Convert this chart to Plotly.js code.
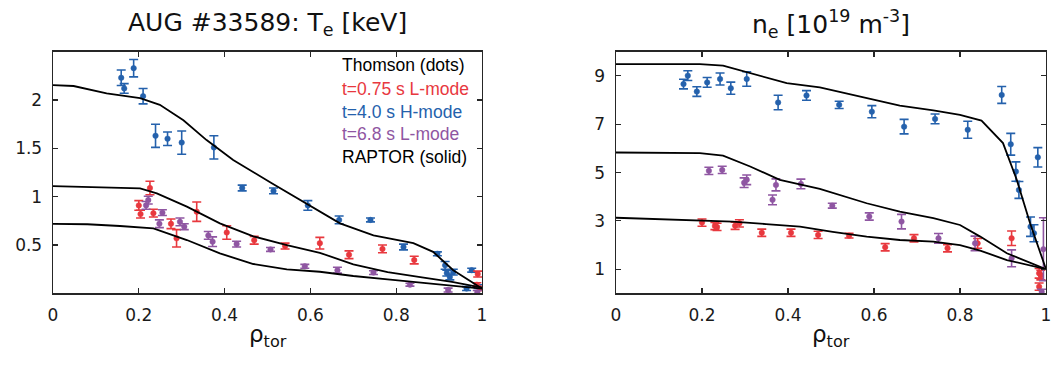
<!DOCTYPE html>
<html><head><meta charset="utf-8">
<script src="https://cdn.plot.ly/plotly-3.0.1.min.js"></script>
<style>html,body{margin:0;padding:0;background:#fff}#chart{width:1051px;height:374px}</style>
</head><body><div id="chart"></div>
<script>
// ---------- Te panel (keV) ----------
const teBlueX = [0.159,0.166,0.188,0.21,0.239,0.267,0.30,0.375,0.441,0.514,0.594,0.667,0.74,0.817,0.896,0.914,0.918,0.925,0.933,0.964,0.976,0.991];
const teBlueY = [2.23,2.12,2.33,2.04,1.63,1.60,1.56,1.51,1.09,1.06,0.91,0.76,0.76,0.48,0.41,0.29,0.21,0.17,0.22,0.05,0.24,0.07];
const teBlueE = [0.08,0.05,0.09,0.08,0.12,0.07,0.12,0.12,0.03,0.03,0.05,0.04,0.02,0.03,0.02,0.04,0.03,0.03,0.03,0.02,0.02,0.02];

const teRedX = [0.20,0.204,0.226,0.234,0.275,0.288,0.335,0.405,0.469,0.541,0.622,0.69,0.768,0.842,0.99,0.988,0.995];
const teRedY = [0.91,0.82,1.09,0.83,0.72,0.57,0.845,0.63,0.55,0.49,0.52,0.40,0.46,0.345,0.2,0.09,0.05];
const teRedE = [0.05,0.04,0.07,0.04,0.05,0.09,0.10,0.07,0.04,0.03,0.06,0.04,0.04,0.04,0.03,0.02,0.02];

const tePurX = [0.217,0.222,0.248,0.255,0.296,0.306,0.362,0.372,0.428,0.507,0.587,0.663,0.747,0.832,0.921,0.989];
const tePurY = [0.91,0.965,0.72,0.835,0.74,0.69,0.60,0.535,0.51,0.455,0.28,0.24,0.215,0.09,0.035,0.01];
const tePurE = [0.04,0.04,0.04,0.03,0.04,0.03,0.04,0.05,0.03,0.02,0.02,0.03,0.02,0.015,0.02,0.02];

const teSimHX = [0,0.048,0.125,0.203,0.249,0.304,0.358,0.42,0.51,0.591,0.669,0.747,0.84,0.886,0.933,1];
const teSimHY = [2.155,2.145,2.07,2.02,1.95,1.79,1.586,1.38,1.14,0.93,0.725,0.60,0.52,0.43,0.24,0.05];
const teSimL1X = [0,0.086,0.156,0.203,0.242,0.312,0.389,0.467,0.545,0.622,0.70,0.78,0.86,0.93,1];
const teSimL1Y = [1.11,1.10,1.097,1.087,1.035,0.897,0.725,0.59,0.50,0.42,0.30,0.22,0.165,0.12,0.06];
const teSimL2X = [0,0.08,0.156,0.234,0.312,0.389,0.467,0.545,0.622,0.70,0.78,0.86,0.93,1];
const teSimL2Y = [0.72,0.715,0.697,0.673,0.552,0.414,0.304,0.249,0.224,0.18,0.145,0.11,0.08,0.05];

// ---------- ne panel (1e19 m^-3) ----------
const neBlueX = [0.157,0.167,0.188,0.212,0.242,0.267,0.304,0.377,0.443,0.519,0.595,0.67,0.742,0.818,0.897,0.918,0.93,0.937,0.964,0.972,0.981];
const neBlueY = [8.66,9.01,8.35,8.73,8.87,8.49,8.87,7.9,8.19,7.8,7.52,6.9,7.22,6.77,8.21,6.17,5.04,4.28,2.76,2.49,5.63];
const neBlueE = [0.2,0.2,0.2,0.2,0.25,0.25,0.3,0.3,0.2,0.15,0.25,0.3,0.2,0.35,0.35,0.45,0.4,0.35,0.4,0.35,0.4];

const nePurX = [0.216,0.247,0.298,0.304,0.364,0.372,0.43,0.503,0.589,0.664,0.75,0.835,0.92,0.994,0.99];
const nePurY = [5.07,5.11,4.58,4.7,3.87,4.49,4.53,3.63,3.18,2.97,2.28,2.07,1.45,1.83,0.07];
const nePurE = [0.15,0.15,0.2,0.2,0.2,0.25,0.2,0.1,0.15,0.3,0.2,0.3,0.35,1.3,0.1];

const neRedX = [0.20,0.23,0.235,0.277,0.287,0.339,0.407,0.47,0.542,0.626,0.693,0.771,0.841,0.92,0.984,0.988,0.984];
const neRedY = [2.93,2.79,2.75,2.80,2.9,2.51,2.51,2.42,2.39,1.91,2.28,1.87,2.07,2.28,0.83,0.76,0.28];
const neRedE = [0.15,0.15,0.15,0.15,0.15,0.15,0.15,0.15,0.1,0.15,0.15,0.15,0.2,0.3,0.2,0.2,0.15];

const neSimHX = [0,0.195,0.249,0.312,0.397,0.474,0.583,0.66,0.738,0.8,0.85,0.90,0.932,0.963,1];
const neSimHY = [9.49,9.49,9.42,9.11,8.70,8.52,8.08,7.77,7.57,7.39,7.15,6.22,4.70,2.9,1.0];
const neSimL2X = [0,0.195,0.249,0.312,0.381,0.474,0.583,0.66,0.738,0.8,0.847,0.909,1];
const neSimL2Y = [5.83,5.8,5.70,5.25,4.70,4.32,3.73,3.38,3.11,2.83,2.35,1.66,1.0];
const neSimL1X = [0,0.195,0.271,0.349,0.428,0.504,0.583,0.66,0.738,0.8,0.847,0.909,1];
const neSimL1Y = [3.13,3.0,2.97,2.87,2.76,2.55,2.35,2.21,2.14,2.0,1.77,1.38,1.0];

const xTicks = [0,0.2,0.4,0.6,0.8,1];
const xTickText = ['0','0.2','0.4','0.6','0.8','1'];
const teTicks = [0.5,1,1.5,2];
const teTickText = ['0.5','1','1.5','2'];
const neTicks = [1,3,5,7,9];
const neTickText = ['1','3','5','7','9'];

const legendLines = ['Thomson (dots)','t=0.75 s L-mode','t=4.0 s H-mode','t=6.8 s L-mode','RAPTOR (solid)'];

const RED = '#e8383e', BLUE = '#2461ac', PURPLE = '#8f56a2', BLACK = '#000000';
const legendColors = [BLACK, RED, BLUE, PURPLE, BLACK];

function pts(x, y, e, color, xa, ya) {
  return {x: x, y: y, type: 'scatter', mode: 'markers', xaxis: xa, yaxis: ya,
    marker: {color: color, size: 5.5, line: {color: color, width: 0.5}},
    error_y: {type: 'data', array: e, visible: true, color: color, thickness: 1.6, width: 4.5},
    showlegend: false, hoverinfo: 'skip'};
}
function sim(x, y, xa, ya) {
  return {x: x, y: y, type: 'scatter', mode: 'lines', xaxis: xa, yaxis: ya,
    line: {color: BLACK, width: 1.8}, showlegend: false, hoverinfo: 'skip'};
}

const traces = [
  pts(teBlueX, teBlueY, teBlueE, BLUE, 'x', 'y'),
  pts(teRedX, teRedY, teRedE, RED, 'x', 'y'),
  pts(tePurX, tePurY, tePurE, PURPLE, 'x', 'y'),
  sim(teSimHX, teSimHY, 'x', 'y'),
  sim(teSimL1X, teSimL1Y, 'x', 'y'),
  sim(teSimL2X, teSimL2Y, 'x', 'y'),
  pts(neBlueX, neBlueY, neBlueE, BLUE, 'x2', 'y2'),
  pts(neRedX, neRedY, neRedE, RED, 'x2', 'y2'),
  pts(nePurX, nePurY, nePurE, PURPLE, 'x2', 'y2'),
  sim(neSimHX, neSimHY, 'x2', 'y2'),
  sim(neSimL2X, neSimL2Y, 'x2', 'y2'),
  sim(neSimL1X, neSimL1Y, 'x2', 'y2')
];

const tickFont = {family: 'DejaVu Sans', size: 17, color: '#1a1a1a'};
function xax(domain, anchor) {
  return {domain: domain, anchor: anchor, range: [0, 1], tickvals: xTicks, ticktext: xTickText,
    ticks: 'inside', ticklen: 5, tickwidth: 1.2, tickcolor: '#262626',
    showline: true, linecolor: '#262626', linewidth: 1.4, mirror: 'ticks',
    showgrid: false, zeroline: false, tickfont: tickFont, ticklabelstandoff: 6,
    ticklabeloverflow: 'allow'};
}
function yax(domain, anchor, range, tv, tt) {
  return {domain: domain, anchor: anchor, range: range, tickvals: tv, ticktext: tt,
    ticks: 'inside', ticklen: 5, tickwidth: 1.2, tickcolor: '#262626',
    showline: true, linecolor: '#262626', linewidth: 1.4, mirror: 'ticks',
    showgrid: false, zeroline: false, tickfont: tickFont, ticklabelstandoff: 6,
    ticklabeloverflow: 'allow'};
}

const W = 1051, H = 374;
const yDom = [1 - 293.4 / H, 1 - 51.7 / H];
const x1Dom = [53 / W, 482 / W];
const x2Dom = [616 / W, 1046 / W];

const annotations = [
  {text: 'AUG #33589: T<sub>e</sub> [keV]', x: (x1Dom[0] + x1Dom[1]) / 2, y: 1 - 24 / H,
   xref: 'paper', yref: 'paper', xanchor: 'center', yanchor: 'middle', showarrow: false,
   font: {family: 'DejaVu Sans', size: 25, color: '#111'}},
  {text: 'n<sub>e</sub> [10<sup>19</sup> m<sup>-3</sup>]', x: (x2Dom[0] + x2Dom[1]) / 2, y: 1 - 24 / H,
   xref: 'paper', yref: 'paper', xanchor: 'center', yanchor: 'middle', showarrow: false,
   font: {family: 'DejaVu Sans', size: 25, color: '#111'}},
  {text: 'ρ<sub>tor</sub>', x: (x1Dom[0] + x1Dom[1]) / 2, y: 1 - 336 / H,
   xref: 'paper', yref: 'paper', xanchor: 'center', yanchor: 'middle', showarrow: false,
   font: {family: 'DejaVu Sans', size: 23, color: '#111'}},
  {text: 'ρ<sub>tor</sub>', x: (x2Dom[0] + x2Dom[1]) / 2, y: 1 - 336 / H,
   xref: 'paper', yref: 'paper', xanchor: 'center', yanchor: 'middle', showarrow: false,
   font: {family: 'DejaVu Sans', size: 23, color: '#111'}}
];
const legendY = [65, 89, 112, 134, 157];
legendLines.forEach(function (t, i) {
  annotations.push({text: t, x: 340 / W, y: 1 - legendY[i] / H, xref: 'paper', yref: 'paper',
    xanchor: 'left', yanchor: 'middle', showarrow: false,
    font: {family: 'Liberation Sans', size: 17.5, color: legendColors[i]}});
});

const layout = {
  width: W, height: H, margin: {l: 0, r: 0, t: 0, b: 0},
  paper_bgcolor: '#ffffff', plot_bgcolor: '#ffffff', showlegend: false,
  xaxis: xax(x1Dom, 'y'), yaxis: yax(yDom, 'x', [0, 2.5], teTicks, teTickText),
  xaxis2: xax(x2Dom, 'y2'), yaxis2: yax(yDom, 'x2', [0, 10], neTicks, neTickText),
  annotations: annotations
};

Plotly.newPlot('chart', traces, layout, {staticPlot: true, displayModeBar: false});
</script>
</body></html>
